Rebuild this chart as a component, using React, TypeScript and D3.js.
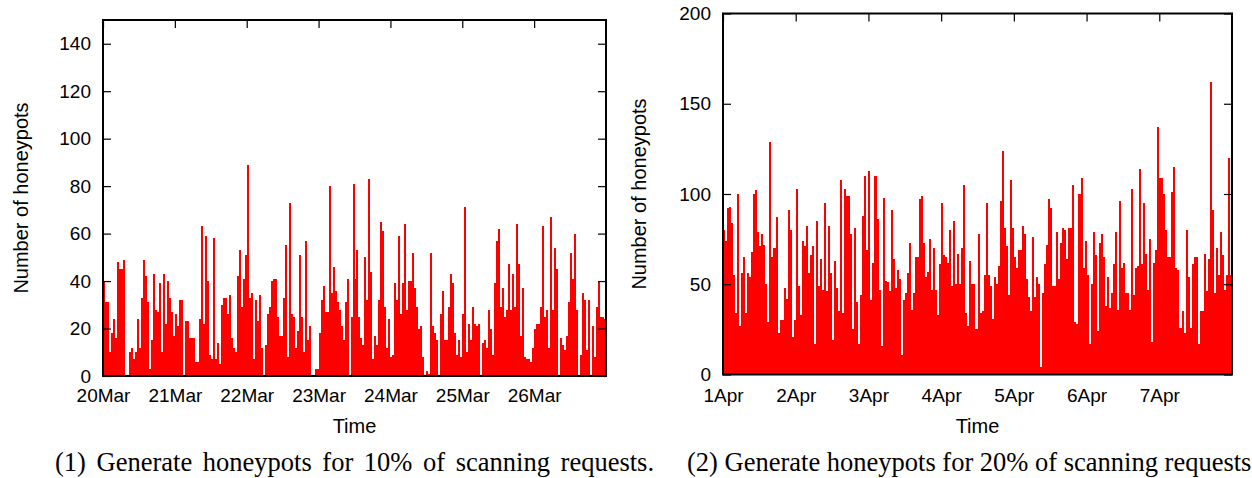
import React, { useRef, useEffect } from "react";
import * as d3 from "d3";

// 40 minute bins, 36 per day, one row per day
const marchCounts = [
	40, 31, 31, 10, 18, 24, 16, 48, 45, 45, 49, 0, 0, 10, 12, 7, 10, 24, 12, 33, 49, 42, 31, 3, 15, 43, 28, 27, 39, 10, 43, 22, 40, 33, 27, 17,
	26, 21, 32, 32, 0, 23, 23, 16, 16, 16, 6, 6, 24, 63, 22, 59, 40, 9, 7, 58, 7, 14, 5, 30, 33, 33, 26, 34, 16, 12, 10, 42, 53, 29, 41, 51,
	89, 33, 35, 7, 32, 23, 34, 12, 0, 13, 26, 29, 40, 41, 41, 25, 17, 17, 33, 55, 8, 73, 26, 25, 12, 19, 51, 25, 10, 57, 15, 21, 0, 0, 3, 3,
	18, 32, 38, 27, 27, 80, 35, 46, 36, 31, 28, 21, 15, 31, 41, 0, 25, 81, 41, 53, 25, 16, 13, 50, 32, 83, 44, 7, 17, 13, 32, 65, 61, 29, 12, 24,
	8, 9, 39, 32, 59, 26, 39, 64, 28, 40, 40, 52, 37, 29, 20, 21, 8, 0, 2, 1, 52, 21, 18, 15, 0, 26, 36, 15, 15, 29, 43, 39, 18, 9, 15, 8,
	26, 71, 10, 22, 15, 29, 22, 21, 22, 0, 14, 15, 12, 28, 20, 9, 39, 57, 62, 29, 37, 25, 28, 47, 28, 43, 29, 64, 47, 17, 37, 8, 7, 7, 6, 12,
	20, 22, 22, 29, 63, 25, 28, 12, 67, 28, 54, 45, 0, 16, 13, 11, 17, 31, 52, 41, 60, 28, 0, 9, 35, 32, 11, 32, 0, 21, 8, 29, 40, 25, 25, 24,
];

const aprilCounts = [
	80, 74, 92, 93, 84, 55, 34, 100, 27, 56, 65, 34, 56, 54, 68, 100, 102, 79, 71, 78, 72, 50, 29, 129, 65, 70, 87, 23, 30, 30, 48, 42, 91, 80, 21, 30,
	103, 49, 33, 74, 71, 82, 56, 66, 71, 17, 85, 49, 64, 47, 95, 46, 82, 56, 19, 63, 48, 35, 108, 34, 103, 99, 99, 78, 25, 81, 40, 17, 44, 88, 110, 69,
	113, 41, 62, 110, 86, 47, 16, 98, 52, 51, 46, 91, 64, 48, 58, 53, 11, 41, 45, 56, 73, 36, 45, 65, 65, 97, 99, 73, 54, 57, 75, 47, 70, 47, 33, 61,
	95, 66, 65, 62, 80, 49, 85, 50, 67, 50, 70, 105, 34, 27, 63, 50, 50, 25, 78, 34, 35, 55, 95, 55, 49, 31, 54, 50, 60, 96, 124, 81, 71, 44, 108, 81,
	65, 59, 69, 69, 82, 78, 53, 43, 35, 76, 43, 54, 50, 4, 45, 61, 72, 97, 92, 49, 49, 79, 53, 73, 81, 80, 64, 81, 81, 105, 29, 28, 100, 109, 59, 74,
	55, 17, 50, 79, 66, 24, 73, 78, 65, 38, 54, 37, 45, 61, 79, 36, 96, 59, 62, 45, 45, 36, 103, 44, 59, 60, 114, 61, 95, 67, 47, 75, 18, 62, 69, 137,
	109, 109, 100, 80, 65, 65, 101, 115, 59, 58, 26, 35, 23, 80, 54, 26, 61, 65, 65, 17, 35, 35, 67, 46, 64, 162, 91, 45, 70, 55, 79, 66, 47, 55, 120, 55,
];

const marchYTicks = [0, 20, 40, 60, 80, 100, 120, 140];
const aprilYTicks = [0, 50, 100, 150, 200];
const captions = [
	"(1) Generate honeypots for 10% of scanning requests.",
	"(2) Generate honeypots for 20% of scanning requests",
];

const BIN_MINUTES = 40;
const SANS = "'Liberation Sans', Arial, Helvetica, sans-serif";
const TICK_FONT = 19;
const TITLE_FONT = 20;

type Panel = {
	values: number[];
	start: Date;
	yMax: number;
	yTicks: number[];
	left: number;
	right: number;
	top: number;
	bottom: number;
	yTitleX: number;
	caption: string;
	captionX: number;
	captionSpacing: number;
};

const drawPanel = (svg: d3.Selection<SVGSVGElement, unknown, null, undefined>, p: Panel) => {
	const end = d3.utcDay.offset(p.start, 7);
	const x = d3.scaleUtc().domain([p.start, end]).range([p.left, p.right]);
	const y = d3.scaleLinear().domain([0, p.yMax]).range([p.bottom, p.top]);
	const binTime = (i: number) => d3.utcMinute.offset(p.start, i * BIN_MINUTES);
	const days = d3.utcDay.range(p.start, end);

	const g = svg.append("g");

	// whole pixel edges so neighbouring boxes join without seams
	g.append("g")
		.attr("shape-rendering", "crispEdges")
		.selectAll("rect")
		.data(p.values)
		.join("rect")
		.attr("x", (_, i) => Math.round(x(binTime(i))))
		.attr("width", (_, i) => Math.round(x(binTime(i + 1))) - Math.round(x(binTime(i))))
		.attr("y", (d) => Math.round(y(d)))
		.attr("height", (d) => Math.round(y(0)) - Math.round(y(d)))
		.attr("fill", "#ff0000");

	const styleAxis = (a: d3.Selection<SVGGElement, unknown, null, undefined>) => {
		a.select(".domain").remove();
		a.selectAll(".tick line").attr("stroke", "#000").attr("stroke-width", 1.2);
		a.selectAll("text").attr("font-family", SANS).attr("font-size", TICK_FONT).attr("fill", "#000");
	};

	// ticks sit inside the frame, mirrored on the right and top
	g.append("g")
		.attr("transform", `translate(${p.left},0)`)
		.call(d3.axisLeft(y).tickValues(p.yTicks).tickSize(-8).tickPadding(12))
		.call(styleAxis);

	g.append("g")
		.attr("transform", `translate(${p.right},0)`)
		.call(d3.axisRight(y).tickValues(p.yTicks).tickSize(-8).tickFormat(() => ""))
		.call(styleAxis);

	g.append("g")
		.attr("transform", `translate(0,${p.top})`)
		.call(d3.axisTop(x).tickValues(days).tickSize(-8).tickFormat(() => ""))
		.call(styleAxis);

	g.append("g")
		.attr("transform", `translate(0,${p.bottom})`)
		.call(
			d3
				.axisBottom(x)
				.tickValues(days)
				.tickSize(0)
				.tickPadding(402 - p.bottom - 0.71 * TICK_FONT)
				.tickFormat((d) => d3.utcFormat("%-d%b")(d as Date))
		)
		.call(styleAxis);

	g.append("rect")
		.attr("x", p.left)
		.attr("y", p.top)
		.attr("width", p.right - p.left)
		.attr("height", p.bottom - p.top)
		.attr("fill", "none")
		.attr("stroke", "#000")
		.attr("stroke-width", 2);

	g.append("text")
		.attr("x", (p.left + p.right) / 2)
		.attr("y", 433)
		.attr("text-anchor", "middle")
		.attr("font-family", SANS)
		.attr("font-size", TITLE_FONT)
		.text("Time");

	g.append("text")
		.attr("transform", `translate(${p.yTitleX},${(p.top + p.bottom) / 2}) rotate(-90)`)
		.attr("text-anchor", "middle")
		.attr("font-family", SANS)
		.attr("font-size", TITLE_FONT)
		.text("Number of honeypots");

	g.append("text")
		.attr("x", p.captionX)
		.attr("y", 471)
		.attr("font-family", "'Liberation Serif', 'Times New Roman', serif")
		.attr("font-size", 26.5)
		.attr("word-spacing", p.captionSpacing)
		.text(p.caption);
};

const App = () => {
	const svgRef = useRef<SVGSVGElement | null>(null);

	useEffect(() => {
		document.body.style.margin = "0";
		if (!svgRef.current) return;
		const svg = d3.select(svgRef.current);
		svg.selectAll("*").remove();

		drawPanel(svg, {
			values: marchCounts,
			start: new Date(Date.UTC(2012, 2, 20)),
			yMax: 150,
			yTicks: marchYTicks,
			left: 103,
			right: 606,
			top: 20,
			bottom: 376,
			yTitleX: 28,
			caption: captions[0],
			captionX: 55,
			captionSpacing: 4,
		});

		drawPanel(svg, {
			values: aprilCounts,
			start: new Date(Date.UTC(2012, 3, 1)),
			yMax: 200,
			yTicks: aprilYTicks,
			left: 723,
			right: 1232,
			top: 13.5,
			bottom: 374.5,
			yTitleX: 646,
			caption: captions[1],
			captionX: 687,
			captionSpacing: 0,
		});
	}, []);

	return <svg ref={svgRef} width={1252} height={478} style={{ display: "block", background: "#fff" }} />;
};

export default App;
